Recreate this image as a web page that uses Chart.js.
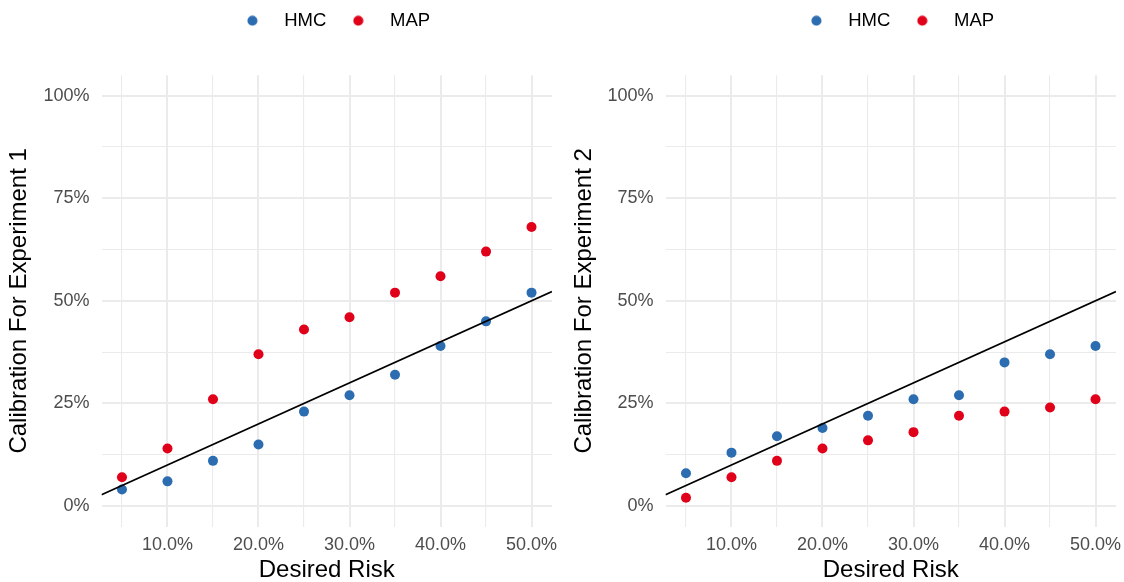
<!DOCTYPE html>
<html>
<head>
<meta charset="utf-8">
<script src="https://cdn.jsdelivr.net/npm/chart.js@4/dist/chart.umd.min.js"></script>
<style>
  html, body { margin: 0; padding: 0; background: #fff; }
  #wrap { display: flex; width: 1124px; height: 582px; }
  canvas { display: block; }
</style>
</head>
<body>
<div id="wrap">
  <canvas id="exp1" width="562" height="582"></canvas>
  <canvas id="exp2" width="562" height="582"></canvas>
</div>
<script>
// desired risk (%) on x, calibration (%) on y
const risk = [5, 10, 15, 20, 25, 30, 35, 40, 45, 50];
const hmcExp1 = [4, 6, 11, 15, 23, 27, 32, 39, 45, 52];
const mapExp1 = [7, 14, 26, 37, 43, 46, 52, 56, 62, 68];
const hmcExp2 = [8, 13, 17, 19, 22, 26, 27, 35, 37, 39];
const mapExp2 = [2, 7, 11, 14, 16, 18, 22, 23, 24, 26];

const xMajor = [10, 20, 30, 40, 50];
const xMinor = [5, 15, 25, 35, 45];
const xTickLabels = ['10.0%', '20.0%', '30.0%', '40.0%', '50.0%'];
const yMajor = [0, 25, 50, 75, 100];
const yMinor = [12.5, 37.5, 62.5, 87.5];
const yTickLabels = ['0%', '25%', '50%', '75%', '100%'];

const xLimits = [2.75, 52.25];
const yLimits = [-5, 105];

const FONT = '"Liberation Sans", Arial, sans-serif';
const BLUE = '#2C6CB0';
const RED = '#E1001A';
const GRID = '#EBEBEB';

function dot(color){
  var c = document.createElement('canvas');
  c.width = 11; c.height = 11;
  var g = c.getContext('2d');
  g.fillStyle = color;
  g.beginPath();
  g.arc(5.5, 5.5, 5, 0, Math.PI * 2);
  g.fill();
  return c;
}
const legendDots = { HMC: dot(BLUE), MAP: dot(RED) };

function tickList(minor, major){
  return minor.concat(major).sort(function(a, b){ return a - b; }).map(function(v){ return {value: v}; });
}

function makePanel(id, hmc, map, yTitle, p){
  var pts = function(vals){ return risk.map(function(x, i){ return {x: x, y: vals[i]}; }); };

  // fixed legend box height + horizontal shift of the legend row
  var legendBox = {
    id: 'legendBox',
    beforeInit: function(chart){
      var fit = chart.legend.fit;
      chart.legend.fit = function(){ fit.call(this); this.height = p.legendHeight; };
    },
    afterLayout: function(chart){
      chart.legend.left += p.legendShift;
      chart.legend.right += p.legendShift;
    }
  };

  new Chart(document.getElementById(id), {
    type: 'scatter',
    data: {
      datasets: [
        { type: 'line', label: 'identity', data: xLimits.map(function(v){ return {x: v, y: v}; }),
          borderColor: '#000', borderWidth: 1.8, pointRadius: 0, tension: 0, fill: false, order: 0 },
        { label: 'HMC', data: pts(hmc), backgroundColor: BLUE, borderWidth: 0, pointRadius: 5, order: 1 },
        { label: 'MAP', data: pts(map), backgroundColor: RED, borderWidth: 0, pointRadius: 5, order: 2 }
      ]
    },
    options: {
      responsive: false,
      animation: false,
      events: [],
      layout: { padding: { top: 2, right: p.padRight, left: 0, bottom: 0 } },
      scales: {
        x: {
          type: 'linear', min: xLimits[0], max: xLimits[1],
          afterBuildTicks: function(ax){ ax.ticks = tickList(xMinor, xMajor); },
          afterFit: function(ax){ ax.height = 55.5; ax.paddingLeft = 0; ax.paddingRight = 0; },
          border: { display: false },
          grid: { color: GRID, drawTicks: false,
            lineWidth: function(c){ return xMajor.indexOf(c.tick.value) >= 0 ? 2 : 1.1; } },
          ticks: { padding: 8, color: '#4D4D4D', font: { size: 18, family: FONT },
            maxRotation: 0, autoSkip: false,
            callback: function(v){ var i = xMajor.indexOf(v); return i < 0 ? '' : xTickLabels[i]; } },
          title: { display: true, text: 'Desired Risk', color: '#000',
            font: { size: 24, family: FONT, lineHeight: 1 }, padding: { top: 0, bottom: 0 } }
        },
        y: {
          type: 'linear', min: yLimits[0], max: yLimits[1],
          afterBuildTicks: function(ax){ ax.ticks = tickList(yMinor, yMajor); },
          afterFit: function(ax){ ax.width = p.yAxisWidth; ax.paddingTop = 0; ax.paddingBottom = 0; },
          border: { display: false },
          grid: { color: GRID, drawTicks: false,
            lineWidth: function(c){ return yMajor.indexOf(c.tick.value) >= 0 ? 2 : 1.1; } },
          ticks: { padding: 12, color: '#4D4D4D', font: { size: 18, family: FONT }, autoSkip: false,
            callback: function(v){ var i = yMajor.indexOf(v); return i < 0 ? '' : yTickLabels[i]; } },
          title: { display: true, text: yTitle, color: '#000',
            font: { size: 24, family: FONT, lineHeight: 1 }, padding: { top: p.yTitlePad, bottom: 0 } }
        }
      },
      plugins: {
        tooltip: { enabled: false },
        legend: {
          position: 'top', align: 'center',
          labels: {
            usePointStyle: true, pointStyleWidth: 45, boxHeight: 11, padding: 9.5,
            color: '#000', font: { size: 18.5, family: FONT },
            generateLabels: function(chart){
              return Chart.defaults.plugins.legend.labels.generateLabels(chart)
                .filter(function(it){ return it.text !== 'identity'; })
                .map(function(it){ it.pointStyle = legendDots[it.text]; return it; });
            }
          }
        }
      }
    },
    plugins: [legendBox]
  });
}

makePanel('exp1', hmcExp1, mapExp1, 'Calibration For Experiment 1',
  { yAxisWidth: 101.5, padRight: 10, yTitlePad: 7, legendHeight: 73.2, legendShift: 54 });
makePanel('exp2', hmcExp2, mapExp2, 'Calibration For Experiment 2',
  { yAxisWidth: 103.5, padRight: 8, yTitlePad: 10, legendHeight: 73.2, legendShift: 55 });
</script>
</body>
</html>
